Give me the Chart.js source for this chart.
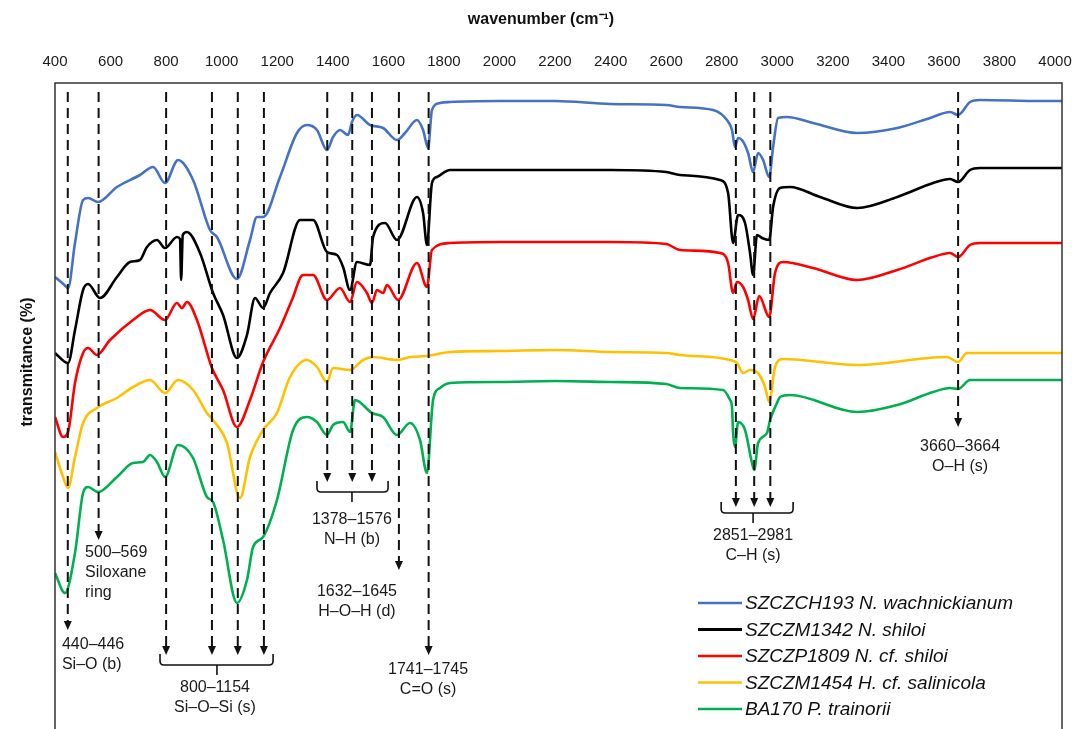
<!DOCTYPE html>
<html>
<head>
<meta charset="utf-8">
<script src="https://cdn.jsdelivr.net/npm/chart.js@4.4.1/dist/chart.umd.min.js"></script>
<style>
  html, body { margin: 0; padding: 0; background: #fff; overflow: hidden; }
  #wrap { width: 1072px; height: 745px; position: relative; }
</style>
</head>
<body>
<div id="wrap"><canvas id="c"></canvas></div>
<script>
// ---------- data (wavenumber cm-1, transmittance offset units) ----------
const seriesNames = [
  'SZCZCH193 N. wachnickianum',
  'SZCZM1342 N. shiloi',
  'SZCZP1809 N. cf. shiloi',
  'SZCZM1454 H. cf. salinicola',
  'BA170 P. trainorii'
];
const seriesColors = ['#4472c4', '#000000', '#ff0000', '#ffc000', '#00b050'];

const wachnickianum = [[400,46.3],[430,45.6],[447,45.2],[472,49.7],[501,54.0],[519,54.2],[555,53.8],[623,55.3],[706,56.5],[753,57.3],[796,55.7],[843,58.0],[897,56.0],[958,51.0],[983,50.3],[1055,46.1],[1102,50.0],[1127,52.3],[1149,52.3],[1210,56.3],[1271,60.7],[1307,61.5],[1343,61.0],[1379,59.0],[1401,60.3],[1426,61.0],[1455,60.5],[1469,61.8],[1487,62.5],[1534,61.5],[1581,61.2],[1631,60.0],[1660,60.7],[1703,62.0],[1725,61.0],[1743,59.2],[1757,63.0],[1786,63.7],[1822,63.8],[2000,63.9],[2200,63.9],[2400,63.6],[2600,63.5],[2650,63.3],[2769,63.0],[2819,62.0],[2837,61.0],[2848,59.3],[2859,60.2],[2873,60.0],[2895,58.7],[2913,56.8],[2931,58.7],[2949,58.0],[2971,56.3],[2985,59.3],[3003,62.2],[3035,62.3],[3129,61.7],[3288,60.7],[3432,61.2],[3550,62.2],[3622,62.8],[3651,62.5],[3694,63.8],[3730,64.0],[3946,63.9],[4025,63.9]];

const shiloi = [[400,38.7],[447,37.7],[472,41.0],[501,45.0],[519,45.6],[562,44.2],[623,46.3],[670,47.8],[706,48.0],[731,49.3],[767,50.0],[796,49.2],[839,50.3],[850,50.1],[854,46.0],[860,50.5],[875,50.8],[922,48.7],[969,44.7],[1005,42.5],[1055,38.2],[1091,40.5],[1120,44.2],[1149,43.2],[1174,44.7],[1221,46.7],[1282,52.0],[1329,52.0],[1379,48.8],[1415,48.5],[1437,47.3],[1462,45.0],[1487,47.8],[1534,47.5],[1545,50.3],[1588,51.7],[1631,50.0],[1703,54.3],[1725,52.7],[1739,49.5],[1757,55.7],[1775,56.3],[1822,57.0],[2000,57.0],[2200,57.0],[2400,57.0],[2600,56.8],[2650,56.5],[2794,56.0],[2823,54.7],[2841,49.7],[2859,52.5],[2884,51.7],[2902,48.7],[2913,46.5],[2927,50.5],[2945,50.2],[2971,50.0],[2985,53.3],[3010,55.2],[3046,55.3],[3154,54.3],[3288,53.2],[3432,54.3],[3561,55.7],[3622,56.1],[3651,55.8],[3694,57.0],[3730,57.2],[3946,57.2],[4025,57.2]];

const cfShiloi = [[400,32.3],[429,30.3],[447,30.8],[472,35.7],[501,38.7],[519,39.2],[551,38.5],[598,40.0],[681,42.0],[742,43.0],[796,42.0],[839,43.7],[857,43.2],[875,43.8],[911,42.0],[965,37.2],[1005,35.0],[1055,31.3],[1102,34.0],[1149,37.8],[1210,41.2],[1253,44.0],[1293,46.5],[1329,46.5],[1379,44.0],[1426,45.2],[1462,43.8],[1487,45.8],[1523,44.7],[1541,43.7],[1559,45.0],[1581,44.7],[1595,45.5],[1635,44.0],[1703,47.7],[1739,45.3],[1757,49.0],[1822,49.7],[2000,49.8],[2200,49.8],[2400,49.8],[2600,49.6],[2650,49.0],[2794,48.7],[2823,47.7],[2841,44.7],[2855,45.8],[2877,45.3],[2895,44.0],[2913,42.1],[2935,44.4],[2971,42.3],[2992,46.7],[3021,47.8],[3129,47.2],[3288,46.0],[3432,47.0],[3561,48.3],[3622,48.7],[3651,48.3],[3694,49.5],[3730,49.7],[3946,49.7],[4025,49.7]];

const salinicola = [[400,28.8],[429,26.3],[447,25.2],[472,28.3],[501,31.7],[551,33.2],[623,34.2],[681,35.3],[742,36.0],[796,34.7],[843,36.0],[897,35.0],[947,32.7],[969,32.0],[1019,29.7],[1066,24.2],[1102,28.3],[1149,31.0],[1199,32.7],[1246,36.3],[1307,38.0],[1343,37.3],[1379,35.8],[1401,37.2],[1462,37.0],[1509,38.0],[1545,38.3],[1631,38.0],[1678,38.3],[1739,38.4],[1822,38.8],[2000,38.9],[2200,39.0],[2400,38.8],[2600,38.7],[2650,38.5],[2830,38.0],[2855,37.7],[2877,36.7],[2902,37.0],[2927,36.8],[2956,35.3],[2971,33.8],[2992,37.3],[3021,38.1],[3288,37.5],[3611,38.3],[3651,37.8],[3683,38.7],[3946,38.7],[4025,38.7]];

const trainorii = [[400,16.7],[436,14.7],[472,18.7],[501,24.7],[519,25.3],[555,24.8],[623,26.3],[681,27.7],[717,27.8],[742,28.5],[767,27.8],[796,26.3],[843,29.5],[897,28.2],[947,24.3],[969,23.8],[1005,20.0],[1055,13.7],[1091,16.0],[1113,19.3],[1149,20.3],[1199,24.0],[1257,31.0],[1307,32.3],[1343,31.8],[1379,30.5],[1401,31.5],[1437,31.8],[1462,30.8],[1480,34.0],[1541,32.7],[1581,32.3],[1631,30.5],[1678,31.7],[1714,30.0],[1739,26.7],[1761,34.0],[1786,35.2],[1822,35.7],[2000,35.8],[2200,35.9],[2400,35.8],[2600,35.6],[2650,35.2],[2805,35.0],[2830,34.0],[2837,33.3],[2841,30.7],[2848,29.3],[2859,31.8],[2884,31.0],[2909,27.7],[2917,27.0],[2931,29.7],[2963,30.7],[2974,32.0],[2999,33.7],[3010,34.3],[3046,34.5],[3288,32.8],[3432,33.5],[3561,34.8],[3622,35.2],[3651,35.1],[3694,36.0],[3946,36.0],[4025,36.0]];

const seriesData = [wachnickianum, shiloi, cfShiloi, salinicola, trainorii];

const tickLabels = [400,600,800,1000,1200,1400,1600,1800,2000,2200,2400,2600,2800,3000,3200,3400,3600,3800,4000];

// band markers: wavenumber and where each dashed arrow ends
const markWn  = [446, 557, 800, 965, 1058, 1152, 1380, 1470, 1541, 1638, 1745, 2851, 2917, 2975, 3651];
const markTip = [11.0, 20.0, 8.5, 8.5, 8.5, 8.5, 25.8, 25.8, 25.8, 17.0, 8.5, 23.3, 23.3, 23.3, 31.3];
const markTop = 64.8;

const brackets = [
  { from: 778,  to: 1185, mid: 983,  level: 7.5 },
  { from: 1343, to: 1599, mid: 1469, level: 24.8 },
  { from: 2798, to: 3057, mid: 2913, level: 22.7 }
];

const bandLabels = [
  { wn: 425,  y: 9.5,  align: 'left',   lines: ['440–446', 'Si–O (b)'] },
  { wn: 508,  y: 18.7, align: 'left',   lines: ['500–569', 'Siloxane', 'ring'] },
  { wn: 976,  y: 5.2,  align: 'center', lines: ['800–1154', 'Si–O–Si (s)'] },
  { wn: 1469, y: 22.0, align: 'center', lines: ['1378–1576', 'N–H (b)'] },
  { wn: 1487, y: 14.8, align: 'center', lines: ['1632–1645', 'H–O–H (d)'] },
  { wn: 1743, y: 7.0,  align: 'center', lines: ['1741–1745', 'C=O (s)'] },
  { wn: 2913, y: 20.4, align: 'center', lines: ['2851–2981', 'C–H (s)'] },
  { wn: 3658, y: 29.3, align: 'center', lines: ['3660–3664', 'O–H (s)'] }
];

const FONT = '"Liberation Sans", Arial, Helvetica, sans-serif';

// ---------- plugins ----------
const framePlugin = {
  id: 'frame',
  afterDatasetsDraw(chart) {
    const { ctx, chartArea: a, scales: { x, y } } = chart;
    ctx.save();
    // dashed band markers
    ctx.strokeStyle = '#111';
    ctx.fillStyle = '#111';
    ctx.lineWidth = 2;
    ctx.setLineDash([10, 6]);
    markWn.forEach((wn, i) => {
      const px = x.getPixelForValue(wn);
      const top = y.getPixelForValue(markTop);
      const tip = y.getPixelForValue(markTip[i]);
      ctx.beginPath(); ctx.moveTo(px, top); ctx.lineTo(px, tip - 6); ctx.stroke();
    });
    ctx.setLineDash([]);
    markWn.forEach((wn, i) => {
      const px = x.getPixelForValue(wn);
      const tip = y.getPixelForValue(markTip[i]);
      ctx.beginPath();
      ctx.moveTo(px - 4, tip - 9); ctx.lineTo(px + 4, tip - 9); ctx.lineTo(px, tip);
      ctx.closePath(); ctx.fill();
    });
    // brackets
    ctx.lineWidth = 1.6;
    brackets.forEach(b => {
      const x1 = x.getPixelForValue(b.from), x2 = x.getPixelForValue(b.to), xc = x.getPixelForValue(b.mid);
      const yb = y.getPixelForValue(b.level);
      const yt = y.getPixelForValue(b.level + 1.1);
      const yd = y.getPixelForValue(b.level - 1.0);
      ctx.beginPath();
      ctx.moveTo(x1, yt); ctx.lineTo(x1, yb - 4);
      ctx.quadraticCurveTo(x1, yb, x1 + 4, yb);
      ctx.lineTo(x2 - 4, yb);
      ctx.quadraticCurveTo(x2, yb, x2, yb - 4);
      ctx.lineTo(x2, yt);
      ctx.stroke();
      ctx.beginPath(); ctx.moveTo(xc, yb); ctx.lineTo(xc, yd); ctx.stroke();
    });
    // labels
    ctx.fillStyle = '#1a1a1a';
    ctx.font = '16px ' + FONT;
    ctx.textBaseline = 'middle';
    bandLabels.forEach(l => {
      const px = x.getPixelForValue(l.wn);
      const py = y.getPixelForValue(l.y);
      ctx.textAlign = l.align;
      l.lines.forEach((t, k) => ctx.fillText(t, px, py + k * 20));
    });
    // frame
    ctx.strokeStyle = '#333';
    ctx.lineWidth = 1.5;
    ctx.strokeRect(a.left, a.top, a.right - a.left, a.bottom - a.top);
    ctx.restore();
  },
  afterDraw(chart) {
    const { ctx, chartArea: a } = chart;
    ctx.save();
    // x title
    ctx.font = 'bold 16px ' + FONT;
    ctx.fillStyle = '#111';
    ctx.textAlign = 'center';
    ctx.textBaseline = 'middle';
    ctx.fillText('wavenumber (cm⁻¹)', 541, 20);
    // y title
    ctx.translate(28, 362);
    ctx.rotate(-Math.PI / 2);
    ctx.fillText('transmitance (%)', 0, 0);
    ctx.restore();
    // legend
    ctx.save();
    const lx = a.right - 364, ly = a.top + 520;
    chart.data.datasets.forEach((ds, i) => {
      const yy = ly + i * 26.5;
      ctx.strokeStyle = ds.borderColor;
      ctx.lineWidth = i === 1 ? 3 : 2.5;
      ctx.beginPath(); ctx.moveTo(lx, yy); ctx.lineTo(lx + 44, yy); ctx.stroke();
      ctx.fillStyle = '#111';
      ctx.font = 'italic 19px ' + FONT;
      ctx.textAlign = 'left';
      ctx.textBaseline = 'middle';
      ctx.fillText(ds.label, lx + 47, yy + 1);
    });
    ctx.restore();
  }
};

// ---------- chart ----------
new Chart(document.getElementById('c'), {
  type: 'line',
  data: {
    datasets: seriesData.map((d, i) => ({
      label: seriesNames[i],
      data: d.map(p => ({ x: p[0], y: p[1] })),
      borderColor: seriesColors[i],
      backgroundColor: seriesColors[i],
      borderWidth: 2.6,
      pointRadius: 0,
      cubicInterpolationMode: 'monotone',
      fill: false
    }))
  },
  options: {
    responsive: true,
    maintainAspectRatio: false,
    animation: false,
    layout: { padding: { left: 0, right: 10, top: 0, bottom: 5 } },
    plugins: { legend: { display: false }, tooltip: { enabled: false } },
    scales: {
      x: {
        type: 'linear',
        position: 'top',
        min: 400,
        max: 4025,
        grid: { display: false, drawTicks: false },
        border: { display: false },
        afterBuildTicks: s => { s.ticks = tickLabels.map(v => ({ value: v })); },
        afterFit: s => { s.height = 83; s.paddingLeft = 0; s.paddingRight = 0; },
        ticks: {
          padding: 12,
          maxRotation: 0,
          autoSkip: false,
          color: '#1a1a1a',
          font: { family: FONT, size: 15 },
          callback: v => String(v)
        },
        title: { display: false }
      },
      y: {
        min: 0,
        max: 65.7,
        grid: { display: false, drawTicks: false },
        border: { display: false },
        ticks: { display: false },
        afterFit: s => { s.width = 55; s.paddingTop = 0; s.paddingBottom = 0; }
      }
    }
  },
  plugins: [framePlugin]
});
</script>
</body>
</html>
